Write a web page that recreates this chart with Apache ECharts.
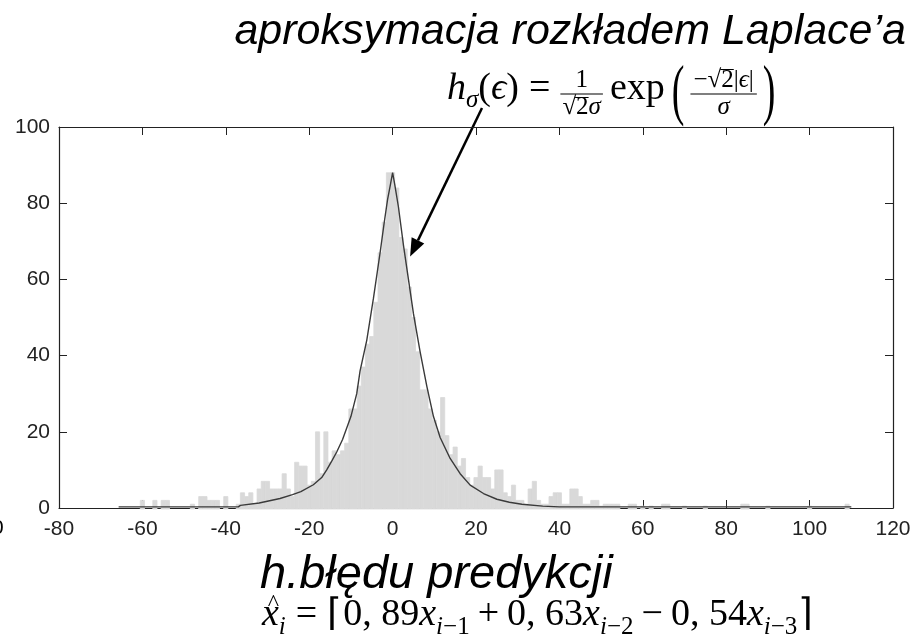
<!DOCTYPE html>
<html>
<head>
<meta charset="utf-8">
<script src="https://cdn.jsdelivr.net/npm/echarts@6/dist/echarts.min.js"></script>
<style>
  html, body { margin: 0; padding: 0; background: #fff; }
  #chart { width: 924px; height: 637px; }
</style>
</head>
<body>
<div id="chart"></div>
<script>
  // histogram of the prediction error, bin centres (bin width 1) and counts
  const binX = [-60, -57, -55, -54, -48, -46, -45, -44, -43, -42, -40, -37, -36, -35, -34, -33, -32, -31, -30, -29,
    -28, -27, -26, -25, -24, -23, -22, -21, -20, -19, -18, -17, -16, -15, -14, -13, -12, -11, -10, -9,
    -8, -7, -6, -5, -4, -3, -2, -1, 0, 1, 2, 3, 4, 5, 6, 7, 8, 9, 10, 11,
    12, 13, 14, 15, 16, 17, 18, 19, 20, 21, 22, 23, 24, 25, 26, 27, 28, 29, 30, 31,
    32, 33, 34, 35, 36, 37, 38, 39, 40, 41, 42, 43, 44, 45, 46, 47, 48, 49, 50, 51,
    52, 53, 54, 57, 58, 60, 62, 65, 66, 70, 75, 84, 85, 90, 100, 109]
  const binCount = [2, 2, 2, 2, 1, 3, 3, 2, 2, 2, 3, 1, 4, 3, 4, 1, 5, 7, 7, 5,
    5, 5, 9, 5, 3, 12, 11, 11, 6, 7, 20, 9, 20, 12, 15, 14, 15, 17, 26, 26,
    32, 37, 43, 45, 54, 67, 75, 88, 88, 84, 71, 68, 58, 50, 41, 31, 31, 26, 23, 20,
    29, 19, 14, 16, 11, 13, 8, 6, 8, 11, 8, 8, 5, 10, 10, 4, 3, 6, 2, 2,
    1, 5, 7, 2, 1, 1, 3, 4, 4, 1, 1, 5, 5, 3, 1, 1, 2, 2, 0.5, 1,
    1, 1, 1, 1, 1, 0.5, 0.5, 1, 1, 0.5, 0.5, 1, 1, 0.5, 0.5, 1]

  // Laplace approximation, points
  const fitX = [-65.7, -37, -36.5, -32, -27, -24, -22, -19, -17, -15.8, -14.5, -13.4, -12, -11, -10, -8.6, -7.8, -6.2, -4.6, -3,
    -2, -1.2, -0.5, 0, 0.5, 1.4, 2.6, 3.8, 5, 6.6, 8.2, 9.8, 11.4, 13.8, 16.2, 18.6, 21.8, 25, 28, 31,
    36, 40, 110]
  const fitY = [0.3, 0.3, 0.7, 1.3, 2.5, 3.5, 4.3, 6.1, 8, 10, 12.5, 14.7, 18, 21, 24, 30, 36, 44, 55, 67,
    75, 81, 85, 88, 85, 79, 69, 60, 51, 41, 32, 24, 18.5, 13, 9, 6, 3.8, 2.3, 1.5, 1,
    0.5, 0.3, 0.3]

  const xTicks = [-80, -60, -40, -20, 0, 20, 40, 60, 80, 100, 120]
  const yTicks = [0, 20, 40, 60, 80, 100]

  const arrowTarget = [4.2, 66]

  const SANS = 'Liberation Sans'
  const SERIF = 'Liberation Serif'

  let myChart = echarts.init(document.getElementById('chart'))

  // measuring text so the formulas can be laid out token by token
  const mctx = document.createElement('canvas').getContext('2d')
  function fontOf(fs, it, fam){
    return (it ? 'italic ' : '') + fs + 'px "' + fam + '"'
  }
  function textW(t, fs, it, fam){
    mctx.font = fontOf(fs, it, fam || SERIF)
    return mctx.measureText(t).width
  }
  function txt(out, t, x, base, fs, it, fam, align){
    out.push({
      type: 'text', x: x, y: base - 0.32 * fs,
      style: { text: t, font: fontOf(fs, it, fam || SERIF), fill: '#000', align: align || 'left', verticalAlign: 'middle' }
    })
  }
  // toks: {t, fs, it, dy, sp}
  function put(out, toks, x, base){
    toks.forEach(k => {
      if (k.sp0) x += k.sp0
      txt(out, k.t, x, base + (k.dy || 0), k.fs, k.it)
      x += textW(k.t, k.fs, k.it) + (k.sp || 0)
    })
    return x
  }
  function width(toks){
    let w = 0
    toks.forEach(k => { w += (k.sp0 || 0) + textW(k.t, k.fs, k.it) + (k.sp || 0) })
    return w
  }
  function frac(out, num, den, x, barY, pad){
    const wn = width(num), wd = width(den)
    const w = Math.max(wn, wd) + 2 * pad
    put(out, num, x + (w - wn) / 2, barY - 6)
    put(out, den, x + (w - wd) / 2, barY + 21)
    out.push({ type: 'line', shape: { x1: x, y1: barY, x2: x + w, y2: barY }, style: { stroke: '#000', lineWidth: 1.1 } })
    return { x: x + w, wn: wn, wd: wd, w: w }
  }
  function paren(out, t, x, cy, fs){
    out.push({ type: 'text', x: x, y: cy, scaleY: 1.8, style: { text: t, font: fontOf(fs, false, SERIF), fill: '#000', align: 'left', verticalAlign: 'middle' } })
    return x + textW(t, fs)
  }

  function buildGraphic(){
    let g = []
    // captions
    txt(g, 'aproksymacja rozkładem Laplace’a', 906, 46, 43, true, SANS, 'right')
    txt(g, 'h.błędu predykcji', 260, 590, 47, true, SANS, 'left')
    txt(g, '0', -8, 535, 21, false, SANS, 'left')

    // h_sigma(eps) = 1/(sqrt2 sigma) exp(-sqrt2|eps|/sigma)
    let fs = 38, sub = 25, base = 101
    let x = put(g, [
      { t: 'h', fs: fs, it: true },
      { t: 'σ', fs: sub, it: true, dy: 7 },
      { t: '(', fs: fs },
      { t: 'ϵ', fs: fs, it: true },
      { t: ')', fs: fs, sp: 10 },
      { t: '=', fs: fs, sp: 10 }
    ], 447, base)
    let f1 = frac(g, [{ t: '1', fs: sub }], [{ t: '√', fs: sub }, { t: '2', fs: sub }, { t: 'σ', fs: sub, it: true }], x, 94, 2)
    let dx0 = f1.x - f1.w / 2 - f1.wd / 2 + textW('√', sub) - 1
    g.push({ type: 'line', shape: { x1: dx0, y1: 97.5, x2: dx0 + textW('2', sub) + 1, y2: 97.5 }, style: { stroke: '#000', lineWidth: 1 } })
    x = put(g, [{ t: 'exp', fs: fs, sp0: 7, sp: 7 }], f1.x, base)
    x = paren(g, '(', x, 94, fs) + 6
    let numTok = [{ t: '−', fs: sub }, { t: '√', fs: sub }, { t: '2', fs: sub }, { t: '|', fs: sub }, { t: 'ϵ', fs: sub, it: true }, { t: '|', fs: sub }]
    let f2 = frac(g, numTok, [{ t: 'σ', fs: sub, it: true }], x, 94, 3)
    let sx = f2.x - f2.w / 2 - f2.wn / 2 + textW('−√', sub) - 1
    g.push({ type: 'line', shape: { x1: sx, y1: 69.5, x2: sx + textW('2', sub) + 1, y2: 69.5 }, style: { stroke: '#000', lineWidth: 1 } })
    paren(g, ')', f2.x + 6, 94, fs)

    // x^_i = ceil(0,89 x_{i-1} + 0,63 x_{i-2} - 0,54 x_{i-3})
    base = 627
    let s = 25, dy = 8
    let x0 = 262
    put(g, [
      { t: 'x', fs: fs, it: true },
      { t: 'i', fs: s, it: true, dy: dy, sp: 10 },
      { t: '=', fs: fs, sp: 10 },
      { t: '⌈', fs: fs, sp: 1 },
      { t: '0, 89', fs: fs },
      { t: 'x', fs: fs, it: true },
      { t: 'i', fs: s, it: true, dy: dy },
      { t: '−1', fs: s, dy: dy, sp: 8 },
      { t: '+', fs: fs, sp: 8 },
      { t: '0, 63', fs: fs },
      { t: 'x', fs: fs, it: true },
      { t: 'i', fs: s, it: true, dy: dy },
      { t: '−2', fs: s, dy: dy, sp: 8 },
      { t: '−', fs: fs, sp: 8 },
      { t: '0, 54', fs: fs },
      { t: 'x', fs: fs, it: true },
      { t: 'i', fs: s, it: true, dy: dy },
      { t: '−3', fs: s, dy: dy, sp: 1 },
      { t: '⌉', fs: fs }
    ], x0, base)
    txt(g, '^', x0 + textW('x', fs, true) / 2 + 3, base - 16, 24, false, SERIF, 'center')
    return g
  }

  let option = {
    animation: false,
    grid: { left: 59, right: 31, top: 127, bottom: 129, show: false },
    xAxis: [
      {
        type: 'value', position: 'bottom',
        min: xTicks[0], max: xTicks[xTicks.length - 1], interval: xTicks[1] - xTicks[0],
        axisLine: { show: true, onZero: false, lineStyle: { color: '#222', width: 1.2 } },
        axisTick: { show: true, inside: true, length: 8, lineStyle: { color: '#222' } },
        axisLabel: { color: '#222', fontSize: 21, fontFamily: SANS, margin: 11 },
        splitLine: { show: false }
      },
      {
        type: 'value', position: 'top',
        min: xTicks[0], max: xTicks[xTicks.length - 1], interval: xTicks[1] - xTicks[0],
        axisLine: { show: true, onZero: false, lineStyle: { color: '#222', width: 1.2 } },
        axisTick: { show: true, inside: true, length: 8, lineStyle: { color: '#222' } },
        axisLabel: { show: false },
        splitLine: { show: false }
      }
    ],
    yAxis: [
      {
        type: 'value', position: 'left',
        min: yTicks[0], max: yTicks[yTicks.length - 1], interval: yTicks[1] - yTicks[0],
        axisLine: { show: true, onZero: false, lineStyle: { color: '#222', width: 1.2 } },
        axisTick: { show: true, inside: true, length: 8, lineStyle: { color: '#222' } },
        axisLabel: { color: '#222', fontSize: 21, fontFamily: SANS, margin: 9 },
        splitLine: { show: false }
      },
      {
        type: 'value', position: 'right',
        min: yTicks[0], max: yTicks[yTicks.length - 1], interval: yTicks[1] - yTicks[0],
        axisLine: { show: true, onZero: false, lineStyle: { color: '#222', width: 1.2 } },
        axisTick: { show: true, inside: true, length: 8, lineStyle: { color: '#222' } },
        axisLabel: { show: false },
        splitLine: { show: false }
      }
    ],
    series: [
      {
        name: 'histogram',
        type: 'custom',
        xAxisIndex: 0, yAxisIndex: 0,
        encode: { x: 0, y: 1 },
        renderItem(params, api){
          let c = api.value(0), v = api.value(1)
          let p0 = api.coord([c - 0.5, v])
          let p1 = api.coord([c + 0.5, 0])
          return {
            type: 'rect',
            shape: { x: p0[0], y: p0[1], width: p1[0] - p0[0], height: p1[1] - p0[1] + 1 },
            style: { fill: '#d9d9d9', stroke: '#d9d9d9', lineWidth: 0.8 }
          }
        },
        data: binX.map((c, i) => [c, binCount[i]])
      },
      {
        name: 'laplace',
        type: 'line',
        xAxisIndex: 0, yAxisIndex: 0,
        showSymbol: false,
        smooth: false,
        lineStyle: { color: '#3a3a3a', width: 1.4 },
        z: 3,
        data: fitX.map((c, i) => [c, fitY[i]])
      }
    ],
    graphic: buildGraphic()
  }

  myChart.setOption(option)

  // arrow from under the formula down to the curve
  let tip = myChart.convertToPixel({ xAxisIndex: 0, yAxisIndex: 0 }, arrowTarget)
  let start = [482, 108]
  let dx = tip[0] - start[0], dy = tip[1] - start[1]
  let len = Math.sqrt(dx * dx + dy * dy)
  let ux = dx / len, uy = dy / len
  let hl = 18, hw = 7
  let bx = tip[0] - ux * hl, by = tip[1] - uy * hl
  myChart.setOption({
    graphic: buildGraphic().concat([
      { type: 'line', shape: { x1: start[0], y1: start[1], x2: bx, y2: by }, style: { stroke: '#000', lineWidth: 2.5 } },
      { type: 'polygon', shape: { points: [[tip[0], tip[1]], [bx - uy * hw, by + ux * hw], [bx + uy * hw, by - ux * hw]] }, style: { fill: '#000' } }
    ])
  }, { replaceMerge: ['graphic'] })
</script>
</body>
</html>
